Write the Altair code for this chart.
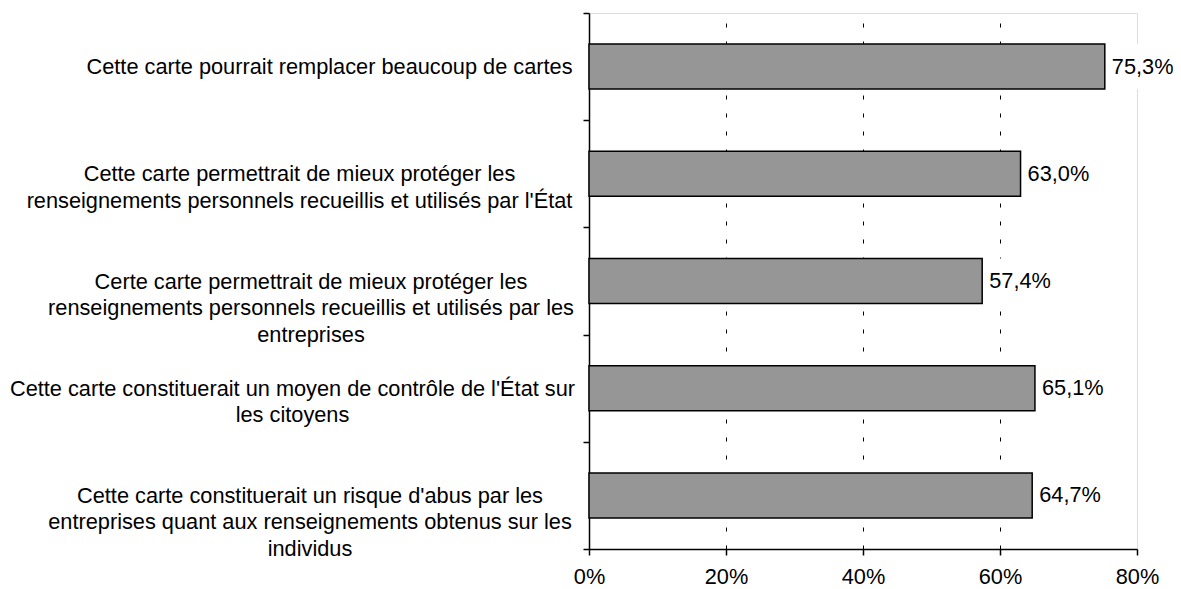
import altair as alt
import pandas as pd

# Data
categories = [
    "Cette carte pourrait remplacer beaucoup de cartes",
    "Cette carte permettrait de mieux protéger les|renseignements personnels recueillis et utilisés par l'État",
    "Certe carte permettrait de mieux protéger les|renseignements personnels recueillis et utilisés par les|entreprises",
    "Cette carte constituerait un moyen de contrôle de l'État sur|les citoyens",
    "Cette carte constituerait un risque d'abus par les|entreprises quant aux renseignements obtenus sur les|individus",
]
values = [75.3, 63.0, 57.4, 65.1, 64.7]
x_ticks = [0, 20, 40, 60, 80]

# Layout (per-label horizontal offset so that each centred block ends near the axis)
label_pads = [254, 284, 272.5, 291, 273.5]

FONT = "Liberation Sans"
FS = 21.75

df = pd.DataFrame({"cat": categories, "v": values})

y_enc = alt.Y(
    "cat:N",
    sort=categories,
    scale=alt.Scale(paddingInner=0, paddingOuter=0),
    axis=alt.Axis(
        title=None,
        domainColor="black",
        domainWidth=1.5,
        tickColor="black",
        tickWidth=1.5,
        tickSize=6,
        tickBand="extent",
        grid=False,
        labelAlign="center",
        labelBaseline="middle",
        labelExpr="split(datum.label, '|')",
        labelLineHeight=26.5,
        labelFont=FONT,
        labelFontSize=FS,
        labelColor="black",
        labelLimit=0,
        labelPadding={"expr": "[" + ",".join(str(p) for p in label_pads) + "][indexof(domain('y'), datum.value)]"},
    ),
)

x_scale = alt.Scale(domain=[0, 80], nice=False, zero=True)
x_axis = alt.Axis(
    title=None,
    values=x_ticks,
    labelExpr="datum.value + '%'",
    domainColor="black",
    domainWidth=1.5,
    tickColor="black",
    tickWidth=1.5,
    tickSize=6,
    grid=True,
    gridColor="black",
    gridWidth=1,
    gridDash=[4, 14],
    gridOpacity={"condition": {"test": "datum.value == 0 || datum.value == 80", "value": 0}, "value": 1},
    labelFont=FONT,
    labelFontSize=FS,
    labelColor="black",
    labelPadding=11,
    labelFlush=False,
)

base = alt.Chart(df)

bars = base.mark_bar(
    fill="#969696", stroke="black", strokeWidth=1.5, height=alt.RelativeBandSize(0.42)
).encode(
    x=alt.X("v:Q", scale=x_scale, axis=x_axis),
    y=y_enc,
)

label_bg = base.transform_calculate(
    x0="datum.v + 0.5", x1="datum.v + 11"
).mark_bar(fill="white", height=alt.RelativeBandSize(0.42)).encode(
    x=alt.X("x0:Q", scale=x_scale, axis=x_axis),
    x2="x1:Q",
    y=y_enc,
)

texts = base.transform_calculate(
    lbl="replace(format(datum.v, '.1f'), '.', ',') + '%'"
).mark_text(align="left", baseline="middle", dx=7, font=FONT, fontSize=FS, color="black").encode(
    x=alt.X("v:Q", scale=x_scale, axis=x_axis),
    y=y_enc,
    text="lbl:N",
)

chart = alt.layer(bars, label_bg, texts).properties(
    width=548,
    height=536,
    autosize=alt.AutoSizeParams(type="none"),
    padding={"left": 581, "top": 5, "right": 36, "bottom": 42},
).configure_view(
    stroke="#8c8c8c", strokeWidth=2
).configure(background="white")

chart.save("out.html", embed_options={"renderer": "svg", "actions": False})
